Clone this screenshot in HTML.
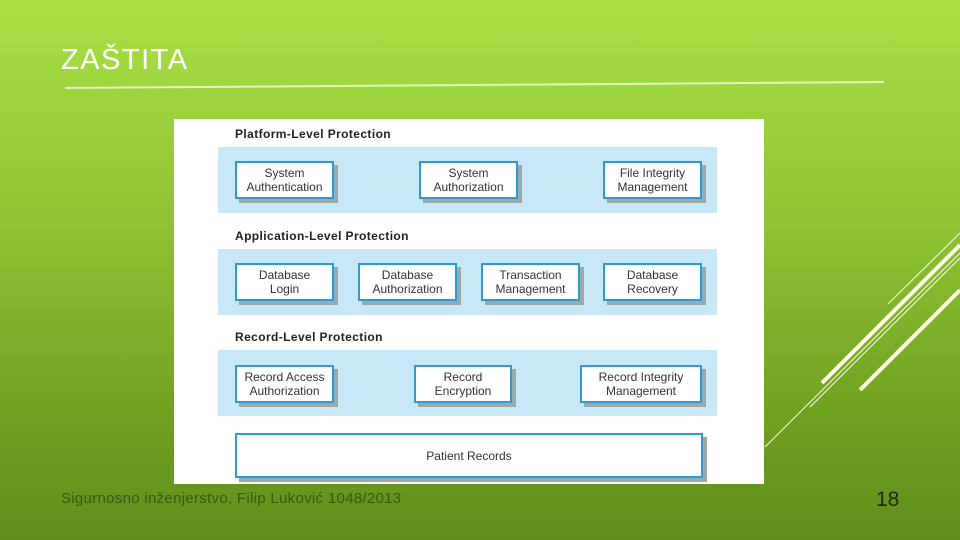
<!DOCTYPE html><html><head><style>
body{margin:0;width:960px;height:540px;overflow:hidden;position:relative;font-family:"Liberation Sans",sans-serif;background:linear-gradient(180deg,#a9e044 0%,#8fc536 40%,#71a322 75%,#5f8e1c 100%)}
.t{position:absolute;left:61px;top:44px;font-size:29px;color:#fff;letter-spacing:1.5px}
.img{position:absolute;left:174px;top:119px;width:590px;height:365px;background:#fff}
.band{position:absolute;left:218px;width:499px;height:66px;background:#c8e8f8}
.h{position:absolute;left:235px;font-weight:bold;font-size:12px;letter-spacing:0.4px;color:#222}
.b{position:absolute;box-sizing:border-box;height:38px;border:2px solid #2d9ad6;background:#fff;box-shadow:4px 4px 0 #9aa;font-size:12px;color:#333;text-align:center;line-height:14px;display:flex;align-items:center;justify-content:center}
.f{position:absolute;left:61px;top:490px;font-size:15px;letter-spacing:0.3px;color:#3a5a10}
.n{position:absolute;left:876px;top:488px;font-size:21px;color:#1c2a0c}
</style></head><body>
<div class="t">ZAŠTITA</div>
<svg width="960" height="540" style="position:absolute;left:0;top:0">
<line x1="65" y1="88" x2="884" y2="82" stroke="#e2f2c0" stroke-width="2"/>
<line x1="822" y1="383" x2="960" y2="245" stroke="#fffbe0" stroke-width="4"/>
<line x1="860" y1="390" x2="960" y2="290" stroke="#fffbe0" stroke-width="4"/>
<line x1="888" y1="304" x2="960" y2="233" stroke="#fffbe0" stroke-width="1"/>
<line x1="810" y1="407" x2="960" y2="258" stroke="#fffbe0" stroke-width="1"/>
<line x1="765" y1="447" x2="960" y2="253" stroke="#fffbe0" stroke-width="1"/>
</svg>
<div class="img"></div>
<div class="band" style="top:147px"></div>
<div class="band" style="top:249px"></div>
<div class="band" style="top:350px"></div>
<div class="h" style="top:127px">Platform-Level Protection</div>
<div class="h" style="top:229px">Application-Level Protection</div>
<div class="h" style="top:330px">Record-Level Protection</div>
<div class="b" style="left:235px;top:161px;width:99px">System<br>Authentication</div>
<div class="b" style="left:419px;top:161px;width:99px">System<br>Authorization</div>
<div class="b" style="left:603px;top:161px;width:99px">File Integrity<br>Management</div>
<div class="b" style="left:235px;top:263px;width:99px">Database<br>Login</div>
<div class="b" style="left:358px;top:263px;width:99px">Database<br>Authorization</div>
<div class="b" style="left:481px;top:263px;width:99px">Transaction<br>Management</div>
<div class="b" style="left:603px;top:263px;width:99px">Database<br>Recovery</div>
<div class="b" style="left:235px;top:365px;width:99px">Record Access<br>Authorization</div>
<div class="b" style="left:414px;top:365px;width:98px">Record<br>Encryption</div>
<div class="b" style="left:580px;top:365px;width:122px">Record Integrity<br>Management</div>
<div class="b" style="left:235px;top:433px;width:468px;height:45px">Patient Records</div>
<div class="f">Sigurnosno inženjerstvo, Filip Luković 1048/2013</div>
<div class="n">18</div>
</body></html>
